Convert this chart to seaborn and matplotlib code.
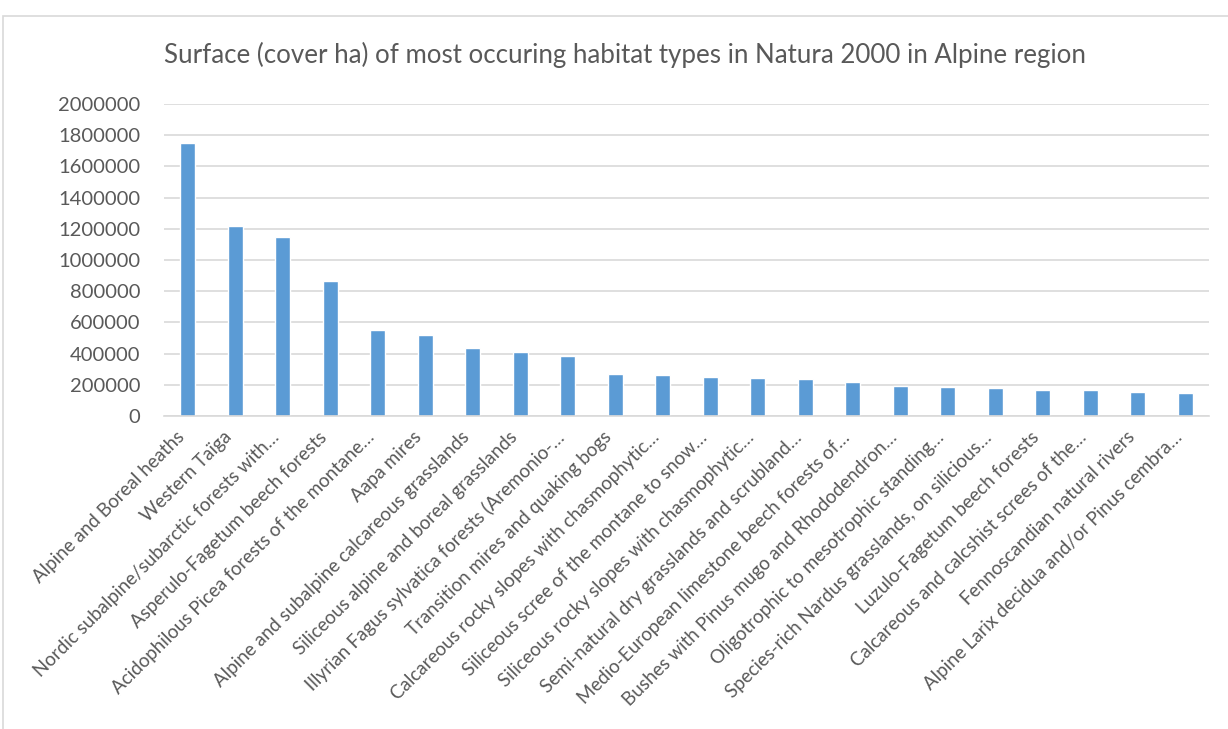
import matplotlib
matplotlib.use("Agg")
import matplotlib.pyplot as plt
import seaborn as sns
import pandas as pd
from matplotlib.patches import Rectangle

habitats = [
    "Alpine and Boreal heaths",
    "Western Taïga",
    "Nordic subalpine/subarctic forests with…",
    "Asperulo-Fagetum beech forests",
    "Acidophilous Picea forests of the montane…",
    "Aapa mires",
    "Alpine and subalpine calcareous grasslands",
    "Siliceous alpine and boreal grasslands",
    "Illyrian Fagus sylvatica forests (Aremonio-…",
    "Transition mires and quaking bogs",
    "Calcareous rocky slopes with chasmophytic…",
    "Siliceous scree of the montane to snow…",
    "Siliceous rocky slopes with chasmophytic…",
    "Semi-natural dry grasslands and scrubland…",
    "Medio-European limestone beech forests of…",
    "Bushes with Pinus mugo and Rhododendron…",
    "Oligotrophic to mesotrophic standing…",
    "Species-rich Nardus grasslands, on silicious…",
    "Luzulo-Fagetum beech forests",
    "Calcareous and calcshist screes of the…",
    "Fennoscandian natural rivers",
    "Alpine Larix decidua and/or Pinus cembra…",
]
cover_ha = [1752000, 1220000, 1147000, 863000, 551000, 519000, 438000, 408000,
            383000, 269000, 262000, 249000, 241000, 236000, 221000, 194000,
            187000, 178000, 166000, 166000, 155000, 148000]
y_ticks = [0, 200000, 400000, 600000, 800000, 1000000, 1200000, 1400000,
           1600000, 1800000, 2000000]
title = "Surface (cover ha) of most occuring habitat types in Natura 2000 in Alpine region"

sns.set_theme(style="white")
plt.rcParams['font.family'] = ['Lato', 'DejaVu Sans']

W, H = 1228, 729
fig = plt.figure(figsize=(W / 100, H / 100), dpi=100)
fig.patch.set_facecolor("white")

# chart border
fig.patches.append(Rectangle((3 / W, -0.1), 1.2, 1 - 16 / H + 0.1,
                             transform=fig.transFigure, fill=False,
                             edgecolor="#D9D9D9", linewidth=1.2))

ax = fig.add_axes([164 / W, 1 - 416 / H, (1209 - 164) / W, (416 - 104) / H])
df = pd.DataFrame({"habitat": habitats, "cover": cover_ha})
sns.barplot(data=df, x="habitat", y="cover", order=habitats, color="#5B9BD5",
            saturation=1, width=0.32, ax=ax)

ax.set_ylim(0, 2000000)
ax.set_xlim(-0.5, len(habitats) - 0.5)
ax.set_yticks(y_ticks)
ax.set_yticklabels([str(v) for v in y_ticks])
ax.yaxis.grid(True, color="#D9D9D9", linewidth=1.2)
ax.set_axisbelow(True)
for s in ["top", "right", "left"]:
    ax.spines[s].set_visible(False)
ax.spines["bottom"].set_color("#D9D9D9")
ax.spines["bottom"].set_linewidth(1.2)
ax.set_xlabel("")
ax.set_ylabel("")
ax.tick_params(axis="both", length=0, colors="#595959")
ax.tick_params(axis="y", pad=17, labelsize=14.5)
ax.set_xticks(range(len(habitats)))
ax.set_xticklabels(habitats, rotation=45, ha="right", va="top",
                   fontsize=13.5, color="#595959")
ax.tick_params(axis="x", pad=9)

fig.text(625 / W, 1 - 55 / H, title, ha="center", va="center",
         fontsize=18.6, color="#595959")

fig.savefig("out.png", dpi=100, facecolor="white")
